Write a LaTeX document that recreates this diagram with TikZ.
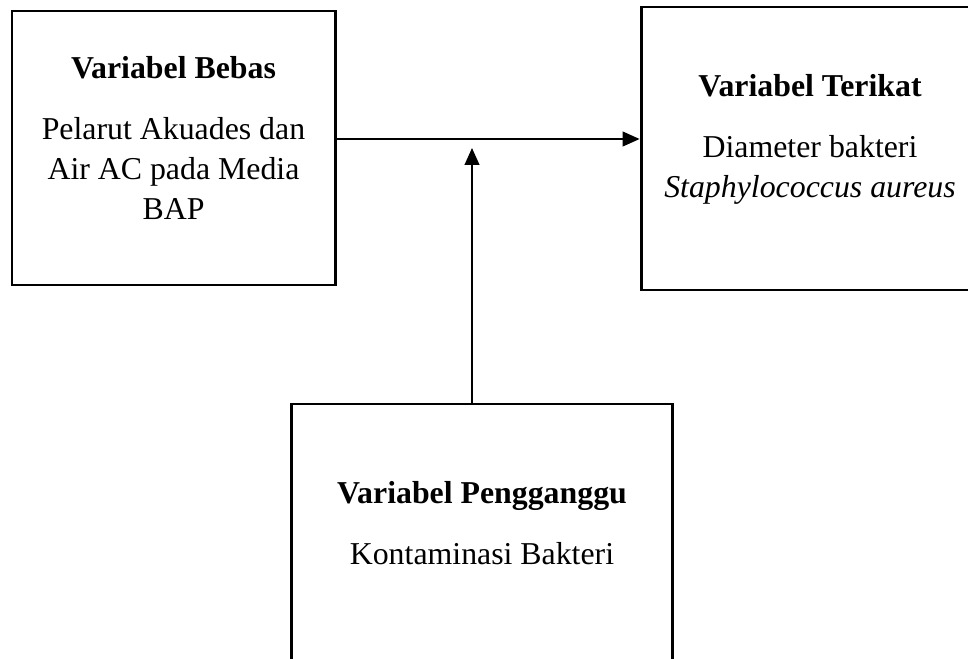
\documentclass[tikz,border=0pt]{standalone}
\usepackage{fontspec}
\setmainfont{Liberation Serif}
\usetikzlibrary{arrows.meta,positioning}

\begin{document}
\begin{tikzpicture}[x=0.377pt,y=-0.377pt,
        box/.style={draw,line width=1.1pt,inner sep=0pt},
        txt/.style={align=center,inner sep=0pt,anchor=north,font=\fontsize{12}{15.1}\selectfont},
        arr/.style={-{Triangle[length=6.4pt,width=5.6pt]},line width=0.55pt}]
        \useasboundingbox (0,0) rectangle (968,658);
        \clip (0,0) rectangle (968,658);

        \node[box,minimum width=121.8pt,minimum height=103.3pt] (bebas) at (173.5,148) {};
        \node[txt] (bebasTxt) at (173.5,55.5) {
            \textbf{Variabel Bebas}\\[8pt]
            Pelarut Akuades dan\\
            Air AC pada Media\\
            BAP
        };

        \node[box,minimum width=127.4pt,minimum height=106.7pt] (terikat) at (810,148.5) {};
        \node[txt] (terikatTxt) at (810,73.5) {
            \textbf{Variabel Terikat}\\[8pt]
            Diameter bakteri\\
            \textit{Staphylococcus aureus}
        };

        \node[box,minimum width=143.3pt,minimum height=107.8pt] (pengganggu) at (482,547) {};
        \node[txt] (penggangguTxt) at (482,480.5) {
            \textbf{Variabel Pengganggu}\\[8pt]
            Kontaminasi Bakteri
        };

        \coordinate (join) at (472,148);

        \draw[arr] (bebas.east |- 0,139) -- (terikat.west |- 0,139);
        \draw[arr] (pengganggu.north -| join) -- (join);
    \end{tikzpicture}
\end{document}
